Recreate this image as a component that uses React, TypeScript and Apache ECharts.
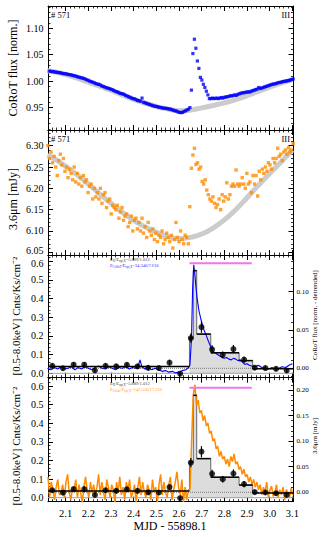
import React, { useEffect, useRef } from 'react';
import * as echarts from 'echarts';

const X_MIN = 2.022;
const X_MAX = 3.105;
const SERIF = 'Liberation Serif';

// Panel 1: CoRoT optical light curve (normalised)
const corotStart = 2.021;
const corotStep = 0.0066;
const corotFlux = [
  1.0195, 1.019, 1.0185, 1.018, 1.0178, 1.017, 1.0168, 1.016, 1.0162, 1.015,
  1.0145, 1.014, 1.0138, 1.013, 1.0125, 1.012, 1.0115, 1.0105, 1.010, 1.0092,
  1.008, 1.0075, 1.0065, 1.006, 1.005, 1.004, 1.0025, 1.0015, 1.000, 0.999,
  0.998, 0.997, 0.9955, 0.9945, 0.994, 0.993, 0.991, 0.990, 0.989, 0.9875,
  0.987, 0.986, 0.985, 0.984, 0.9825, 0.981, 0.980, 0.979, 0.9775, 0.9765,
  0.976, 0.975, 0.973, 0.972, 0.9705, 0.9695, 0.968, 0.967, 0.9665, 0.965,
  0.9635, 0.963, 0.962, 0.968, 0.960, 0.959, 0.958, 0.957, 0.956, 0.955,
  0.954, 0.953, 0.9525, 0.952, 0.951, 0.9505, 0.950, 0.949, 0.949, 0.9485,
  0.948, 0.9475, 0.947, 0.946, 0.945, 0.944, 0.9435, 0.942, 0.941, 0.9405,
  0.941, 0.9425, 0.944, 0.9455, 0.947, 0.950, 0.983, 1.052, 1.079, 1.062,
  1.038, 1.024, 1.007, 1.002, 0.994, 0.988, 0.981, 0.974, 0.967, 0.967,
  0.968, 0.967, 0.9675, 0.968, 0.967, 0.968, 0.969, 0.968, 0.9695, 0.970,
  0.9705, 0.971, 0.9725, 0.972, 0.973, 0.974, 0.973, 0.975, 0.976, 0.977,
  0.978, 0.978, 0.979, 0.979, 0.980, 0.9795, 0.981, 0.982, 0.983, 0.984,
  0.985, 0.988, 0.986, 0.987, 0.988, 0.989, 0.990, 0.991, 0.992, 0.993,
  0.994, 0.9945, 0.995, 0.996, 0.997, 0.9975, 0.998, 0.999, 0.9995, 1.000,
  1.0005, 1.001, 1.002, 1.003, 1.004,
];
const corotModel = [
  [2.02, 1.0195], [2.1, 1.0125], [2.2, 0.998], [2.3, 0.9825], [2.4, 0.9655],
  [2.5, 0.952], [2.55, 0.9475], [2.6, 0.944], [2.65, 0.9455], [2.7, 0.9495],
  [2.75, 0.954], [2.8, 0.959], [2.85, 0.965], [2.9, 0.9725], [2.95, 0.9805],
  [3.0, 0.9885], [3.05, 0.996], [3.1, 1.003],
];

// Panel 2: Spitzer 3.6 micron light curve (mJy)
const irStart = 2.022;
const irStep = 0.0068;
const irFlux = [
  6.30, 6.27, 6.285, 6.26, 6.275, 6.25, 6.23, 6.265, 6.28, 6.255,
  6.27, 6.24, 6.25, 6.225, 6.245, 6.235, 6.22, 6.25, 6.215, 6.235,
  6.21, 6.225, 6.205, 6.23, 6.215, 6.22, 6.19, 6.205, 6.21, 6.175,
  6.2, 6.18, 6.19, 6.175, 6.2, 6.165, 6.185, 6.19, 6.155, 6.17,
  6.175, 6.14, 6.16, 6.155, 6.15, 6.16, 6.13, 6.145, 6.155, 6.125,
  6.135, 6.14, 6.11, 6.12, 6.135, 6.1, 6.125, 6.13, 6.105, 6.12,
  6.1, 6.13, 6.095, 6.11, 6.085, 6.12, 6.1, 6.09, 6.105, 6.08,
  6.095, 6.075, 6.09, 6.085, 6.1, 6.07, 6.08, 6.095, 6.085, 6.075,
  6.09, 6.06, 6.08, 6.12, 6.085, 6.075, 6.1, 6.08, 6.07, 6.09,
  6.085, 6.07, 6.157, 6.247, 6.278, 6.294, 6.256, 6.26, 6.245, 6.25,
  6.216, 6.21, 6.22, 6.196, 6.185, 6.175, 6.17, 6.18, 6.165, 6.155,
  6.162, 6.175, 6.15, 6.185, 6.17, 6.18, 6.213, 6.175, 6.185, 6.205,
  6.21, 6.205, 6.243, 6.21, 6.205, 6.21, 6.225, 6.21, 6.2, 6.235,
  6.21, 6.215, 6.19, 6.23, 6.21, 6.23, 6.182, 6.24, 6.22, 6.245,
  6.235, 6.25, 6.24, 6.26, 6.255, 6.245, 6.27, 6.26, 6.27, 6.294,
  6.275, 6.28, 6.265, 6.285, 6.29, 6.28, 6.295, 6.285, 6.29, 6.305,
];
const irModel = [
  [2.02, 6.278], [2.1, 6.252], [2.2, 6.21], [2.3, 6.165], [2.4, 6.125],
  [2.5, 6.097], [2.55, 6.087], [2.6, 6.082], [2.65, 6.085], [2.7, 6.093],
  [2.75, 6.107], [2.8, 6.126], [2.85, 6.15], [2.9, 6.178], [2.95, 6.207],
  [3.0, 6.235], [3.05, 6.262], [3.1, 6.29],
];

// Panels 3 & 4: X-ray count rate
const xrayTime = [
  2.041, 2.088, 2.135, 2.182, 2.229, 2.276, 2.323, 2.370, 2.417, 2.464, 2.511, 2.558,
  2.605, 2.652, 2.699, 2.746, 2.793, 2.840, 2.887, 2.934, 2.981, 3.028, 3.075,
];
const xrayRate = [
  0.04, 0.027, 0.046, 0.046, 0.015, 0.04, 0.037, 0.045, 0.037, 0.029, 0.028, 0.057,
  -0.002, 0.188, 0.247, 0.128, 0.099, 0.13, 0.073, 0.03, 0.028, 0.024, 0.015,
];
const xrayErr = [
  0.013, 0.013, 0.013, 0.013, 0.012, 0.013, 0.013, 0.013, 0.013, 0.013, 0.013, 0.015,
  0.01, 0.025, 0.03, 0.022, 0.018, 0.022, 0.017, 0.012, 0.012, 0.012, 0.012,
];
const binEdges = [2.022, 2.646, 2.663, 2.678, 2.74, 2.865, 2.925, 3.105];
const binRates = [0.036, 0.19, 0.55, 0.21, 0.11, 0.068, 0.025];
const flareBins = [1, 2, 3, 4, 5];
const flareSpan = [2.646, 2.921];
const flareBarLevel = 0.59;

// Panel 3 right axis: CoRoT detrended
const corotDetrended = [
  [2.02, 0.0], [2.035, -0.002], [2.05, 0.001], [2.065, -0.001], [2.08, 0.002], [2.095, -0.001],
  [2.11, 0.0], [2.125, 0.002], [2.14, -0.002], [2.155, 0.001], [2.17, -0.001], [2.185, 0.002],
  [2.2, 0.0], [2.215, -0.002], [2.23, 0.001], [2.245, 0.003], [2.26, 0.0], [2.275, -0.001],
  [2.29, 0.002], [2.305, 0.0], [2.32, -0.002], [2.335, 0.001], [2.35, 0.0], [2.365, 0.002],
  [2.38, -0.001], [2.395, 0.001], [2.41, 0.0], [2.42, 0.003], [2.428, 0.011], [2.436, 0.002],
  [2.45, -0.001], [2.465, 0.001], [2.48, -0.002], [2.495, 0.0], [2.51, -0.002], [2.525, -0.004],
  [2.54, -0.003], [2.555, -0.005], [2.57, -0.004], [2.585, -0.006], [2.6, -0.005], [2.615, -0.003],
  [2.63, -0.002], [2.642, 0.001], [2.648, 0.004], [2.655, 0.039], [2.66, 0.104], [2.665, 0.135],
  [2.67, 0.122], [2.675, 0.105], [2.68, 0.091], [2.688, 0.075], [2.695, 0.066], [2.702, 0.058],
  [2.71, 0.05], [2.72, 0.043], [2.73, 0.035], [2.74, 0.028], [2.75, 0.022], [2.76, 0.02],
  [2.77, 0.018], [2.78, 0.016], [2.79, 0.014], [2.8, 0.013], [2.81, 0.014], [2.82, 0.012],
  [2.83, 0.011], [2.84, 0.013], [2.85, 0.012], [2.86, 0.01], [2.87, 0.011], [2.88, 0.008],
  [2.89, 0.005], [2.9, 0.006], [2.91, 0.004], [2.92, 0.003], [2.935, 0.002], [2.95, 0.004],
  [2.965, 0.001], [2.98, 0.0], [2.995, -0.001], [3.01, 0.001], [3.025, -0.001], [3.04, 0.0],
  [3.055, 0.002], [3.07, 0.001], [3.085, 0.004], [3.1, 0.006],
];

// Panel 4 right axis: 3.6 micron detrended
const irDetStart = 2.022;
const irDetStep = 0.0072;
const irDetrended = [
  0.03, -0.01, 0.02, 0.005, -0.015, 0.01, 0.025, -0.005, 0.0, 0.015,
  -0.01, 0.02, 0.035, 0.0, -0.015, 0.01, 0.005, 0.025, -0.01, 0.015,
  0.0, -0.02, 0.01, 0.03, 0.005, -0.01, 0.02, 0.0, 0.015, -0.005,
  0.01, 0.035, -0.005, 0.02, 0.0, -0.015, 0.025, 0.01, -0.01, 0.015,
  0.005, -0.02, 0.02, 0.0, 0.03, -0.005, 0.01, -0.015, 0.02, 0.005,
  0.025, -0.01, 0.0, 0.015, -0.02, 0.01, 0.03, -0.005, 0.02, 0.0,
  -0.01, 0.015, 0.005, -0.015, 0.025, 0.0, 0.01, -0.02, 0.015, 0.035,
  -0.005, 0.02, 0.0, -0.01, 0.015, 0.03, -0.015, 0.005, 0.02, 0.04,
  0.01, -0.005, 0.025, -0.02, 0.01, -0.015, 0.005,
  0.005, 0.1, 0.19, 0.21, 0.17, 0.18, 0.155, 0.16, 0.14, 0.15,
  0.13, 0.135, 0.115, 0.12, 0.1, 0.105, 0.085, 0.09, 0.07, 0.08,
  0.065, 0.07, 0.055, 0.065, 0.05, 0.07, 0.06, 0.075, 0.055, 0.06,
  0.045, 0.05, 0.035, 0.045, 0.03, 0.035, 0.02, 0.03, 0.015, 0.025,
  0.01, 0.02,
  0.005, 0.015, -0.005, 0.01, 0.0, 0.02, -0.01, 0.005, 0.012, -0.008,
  0.0, 0.015, -0.01, 0.005, -0.005, 0.01, -0.015, 0.005, 0.0, -0.01,
  0.008, -0.005,
];

// Two crowded labels where panels 2 and 3 meet, drawn as separate texts
const crowdedLabels = [
  { text: '6.05', x: 43.5, y: 250.3 },
  { text: '0.6', x: 43.5, y: 263.2 },
];

const fmt = (step: number, dec: number, skip?: (v: number) => boolean) => (v: number) => {
  if (Math.abs(v / step - Math.round(v / step)) > 1e-3) return '';
  if (skip && skip(v)) return '';
  const r = Math.round(v / step) * step;
  return (Math.abs(r) < 1e-9 ? 0 : r).toFixed(dec);
};

const GRIDS = [
  { left: 48, width: 245.5, top: 6, height: 124 },
  { left: 48, width: 245.5, top: 130, height: 125 },
  { left: 48, width: 245.5, top: 255, height: 122.7 },
  { left: 48, width: 245.5, top: 377.7, height: 124 },
];

function xAx(grid: number, pos: string, labels: boolean) {
  return {
    type: 'value', gridIndex: grid, position: pos, min: X_MIN, max: X_MAX,
    splitNumber: 11, minInterval: 0.1, maxInterval: 0.1,
    axisLine: { show: true, onZero: false, lineStyle: { color: '#000', width: 1 } },
    axisTick: { show: true, inside: true, length: 5, lineStyle: { color: '#000', width: 1 } },
    minorTick: { show: true, splitNumber: 5, length: 2.5, lineStyle: { color: '#000', width: 0.8 } },
    splitLine: { show: false },
    axisLabel: {
      show: labels, formatter: fmt(0.1, 1), fontFamily: SERIF, fontSize: 10.5, color: '#000', margin: 6,
    },
  };
}

function yAx(grid: number, pos: string, min: number, max: number, split: number, step: number,
  dec: number, labels: boolean, fontSize: number, margin: number, skip?: (v: number) => boolean) {
  return {
    type: 'value', gridIndex: grid, position: pos, min, max, splitNumber: split,
    minInterval: step, maxInterval: step,
    axisLine: { show: true, onZero: false, lineStyle: { color: '#000', width: 1 } },
    axisTick: { show: true, inside: true, length: 5, lineStyle: { color: '#000', width: 1 } },
    minorTick: { show: true, splitNumber: 5, length: 2.5, lineStyle: { color: '#000', width: 0.8 } },
    splitLine: { show: false },
    axisLabel: {
      show: labels, formatter: fmt(step, dec, skip), fontFamily: SERIF, fontSize, color: '#000', margin,
    },
  };
}

function xrayPanel(g: number, rightIdx: number, rightData: number[][], rightColor: string, rightWidth: number) {
  const flarePts: number[][] = [[binEdges[flareBins[0]], binRates[flareBins[0] - 1]]];
  flareBins.forEach((b) => {
    flarePts.push([binEdges[b], binRates[b]]);
    flarePts.push([binEdges[b + 1], binRates[b]]);
  });
  const last = flareBins[flareBins.length - 1];
  flarePts.push([binEdges[last + 1], binRates[last + 1]]);
  return [
    {
      type: 'line', xAxisIndex: g, yAxisIndex: g, data: flarePts, symbol: 'none',
      lineStyle: { color: '#666', width: 1 }, areaStyle: { color: '#dcdcdc', opacity: 1 }, z: 1, silent: true,
    },
    {
      type: 'line', xAxisIndex: g, yAxisIndex: g, data: [[X_MIN, 0], [X_MAX, 0]], symbol: 'none',
      lineStyle: { color: '#a0a0a0', width: 1 }, z: 2, silent: true,
    },
    {
      type: 'line', xAxisIndex: g, yAxisIndex: rightIdx, data: [[X_MIN, 0], [X_MAX, 0]], symbol: 'none',
      lineStyle: { color: '#777', width: 1, type: 'dotted' }, z: 2, silent: true,
    },
    {
      type: 'line', xAxisIndex: g, yAxisIndex: rightIdx, data: rightData, symbol: 'none',
      lineStyle: { color: rightColor, width: rightWidth }, z: 3, silent: true,
    },
    {
      type: 'custom', xAxisIndex: g, yAxisIndex: g, z: 4, silent: true,
      data: binRates.map((v, i) => [binEdges[i], binEdges[i + 1], v]),
      encode: { x: [0, 1], y: 2 },
      renderItem: (_p: any, api: any) => {
        const a = api.coord([api.value(0), api.value(2)]);
        const b = api.coord([api.value(1), api.value(2)]);
        return { type: 'line', shape: { x1: a[0], y1: a[1], x2: b[0], y2: b[1] }, style: { stroke: '#000', lineWidth: 1.5 } };
      },
    },
    {
      type: 'line', xAxisIndex: g, yAxisIndex: g, symbol: 'none', z: 4, silent: true,
      data: [[flareSpan[0], flareBarLevel], [flareSpan[1], flareBarLevel]],
      lineStyle: { color: '#ee77ee', width: 2 },
    },
    {
      type: 'custom', xAxisIndex: g, yAxisIndex: g, z: 5, silent: true,
      data: xrayTime.map((t, i) => [t, xrayRate[i], xrayErr[i]]),
      encode: { x: 0, y: 1 },
      renderItem: (_p: any, api: any) => {
        const x = api.value(0), y = api.value(1), e = api.value(2);
        const a = api.coord([x, y - e]);
        const b = api.coord([x, y + e]);
        return { type: 'line', shape: { x1: a[0], y1: a[1], x2: b[0], y2: b[1] }, style: { stroke: '#000', lineWidth: 1.2 } };
      },
    },
    {
      type: 'scatter', xAxisIndex: g, yAxisIndex: g, z: 6, silent: true,
      data: xrayTime.map((t, i) => [t, xrayRate[i]]),
      symbol: 'circle', symbolSize: 6, itemStyle: { color: '#000' },
    },
  ];
}

function txt(x: number, y: number, text: string, fontSize: number, opts: any = {}) {
  return {
    type: 'text', x, y, rotation: opts.rotation || 0, silent: true,
    style: {
      text, fontSize, fontFamily: SERIF, fill: opts.fill || '#000',
      align: opts.align || 'center', verticalAlign: 'middle', rich: opts.rich,
    },
  };
}

export default function App() {
  const ref = useRef<HTMLDivElement>(null);
  useEffect(() => {
    document.body.style.margin = '0';
    if (!ref.current) return;
    const chart = echarts.init(ref.current, null, { renderer: 'svg' });

    const corotPts = corotFlux.map((v, i) => [+(corotStart + i * corotStep).toFixed(4), v]);
    const irPts = irFlux.map((v, i) => [+(irStart + i * irStep).toFixed(4), v]);
    const irDetPts = irDetrended.map((v, i) => [+(irDetStart + i * irDetStep).toFixed(4), v]);

    const sub = (c: string) => ({ s: { fontSize: 3, fill: c, fontFamily: SERIF, verticalAlign: 'bottom' } });

    chart.setOption({
      animation: false,
      grid: GRIDS.map((g) => ({ ...g, show: false, containLabel: false, outerBoundsMode: 'none' })),
      xAxis: [
        xAx(0, 'bottom', false), xAx(1, 'bottom', false), xAx(2, 'bottom', false), xAx(3, 'bottom', true),
        xAx(0, 'top', false), xAx(1, 'top', false), xAx(2, 'top', false), xAx(3, 'top', false),
      ],
      yAxis: [
        yAx(0, 'left', 0.9078, 1.1417, 5, 0.05, 2, true, 10, 4.5),
        yAx(1, 'left', 6.0437, 6.3368, 6, 0.05, 2, true, 10, 4.5, (v) => v < 6.06),
        yAx(2, 'left', -0.0236, 0.6337, 7, 0.1, 1, true, 10, 4.5, (v) => v > 0.55),
        yAx(3, 'left', -0.0215, 0.6446, 7, 0.1, 1, true, 10, 4.5),
        yAx(0, 'right', 0.9078, 1.1417, 5, 0.05, 2, false, 7, 3),
        yAx(1, 'right', 6.0437, 6.3368, 6, 0.05, 2, false, 7, 3),
        yAx(2, 'right', -0.01227, 0.1479, 3, 0.05, 2, true, 7, 3),
        yAx(3, 'right', -0.0184, 0.224, 5, 0.05, 2, true, 7, 3),
      ],
      series: [
        {
          type: 'line', xAxisIndex: 0, yAxisIndex: 0, data: corotModel, smooth: true, symbol: 'none',
          lineStyle: { color: '#cccccc', width: 5 }, z: 1, silent: true,
        },
        {
          type: 'scatter', xAxisIndex: 0, yAxisIndex: 0, data: corotPts, symbol: 'rect', symbolSize: 3.2,
          itemStyle: { color: '#0000ff' }, z: 2, silent: true,
        },
        {
          type: 'line', xAxisIndex: 1, yAxisIndex: 1, data: irModel, smooth: true, symbol: 'none',
          lineStyle: { color: '#cccccc', width: 5 }, z: 1, silent: true,
        },
        {
          type: 'scatter', xAxisIndex: 1, yAxisIndex: 1, data: irPts, symbol: 'rect', symbolSize: 3.4,
          itemStyle: { color: '#ff8c00' }, z: 2, silent: true,
        },
        ...xrayPanel(2, 6, corotDetrended, '#0000ff', 1.1),
        ...xrayPanel(3, 7, irDetPts, '#ff8c00', 1.5),
      ],
      graphic: [
        ...crowdedLabels.map((l) => txt(l.x, l.y, l.text, 10, { align: 'right' })),
        txt(51, 15, '# 571', 8.5, { align: 'left' }),
        txt(290, 15, 'III', 8.5, { align: 'right' }),
        txt(51, 139, '# 571', 8.5, { align: 'left' }),
        txt(290, 139, 'III', 8.5, { align: 'right' }),
        txt(12.5, 68, 'CoRoT flux [norm.]', 12, { rotation: Math.PI / 2 }),
        txt(12.5, 199, '3.6\u03bcm [mJy]', 12, { rotation: Math.PI / 2 }),
        txt(15.5, 316, '[0.5-8.0keV] Cnts/Ks/cm\u207b\u00b2', 11, { rotation: Math.PI / 2 }),
        txt(15.5, 446, '[0.5-8.0keV] Cnts/Ks/cm\u207b\u00b2', 11, { rotation: Math.PI / 2 }),
        txt(315, 315, 'CoRoT flux [norm. - detrended]', 7, { rotation: Math.PI / 2 }),
        txt(315, 436, '3.6\u03bcm [mJy]', 7, { rotation: Math.PI / 2 }),
        txt(170, 526, 'MJD - 55898.1', 12),
        txt(110, 259.5, 'E{s|X}/E{s|opt,X}=5.889/1.012', 4.5, { align: 'left', fill: '#444', rich: sub('#444') }),
        txt(110, 265.5, 'E{s|CoRoT}/E{s|opt,X}=34.340/7.610', 4.5, { align: 'left', fill: '#3333ff', rich: sub('#3333ff') }),
        txt(110, 383.5, 'E{s|X}/E{s|opt,X}=5.889/1.012', 4.5, { align: 'left', fill: '#444', rich: sub('#444') }),
        txt(110, 389.5, 'E{s|3.6\u03bcm}/E{s|opt,X}=142.550/17.210', 4.5, { align: 'left', fill: '#ff9933', rich: sub('#ff9933') }),
      ],
    });
    return () => chart.dispose();
  }, []);
  return <div ref={ref} style={{ width: 327, height: 537 }} />;
}
